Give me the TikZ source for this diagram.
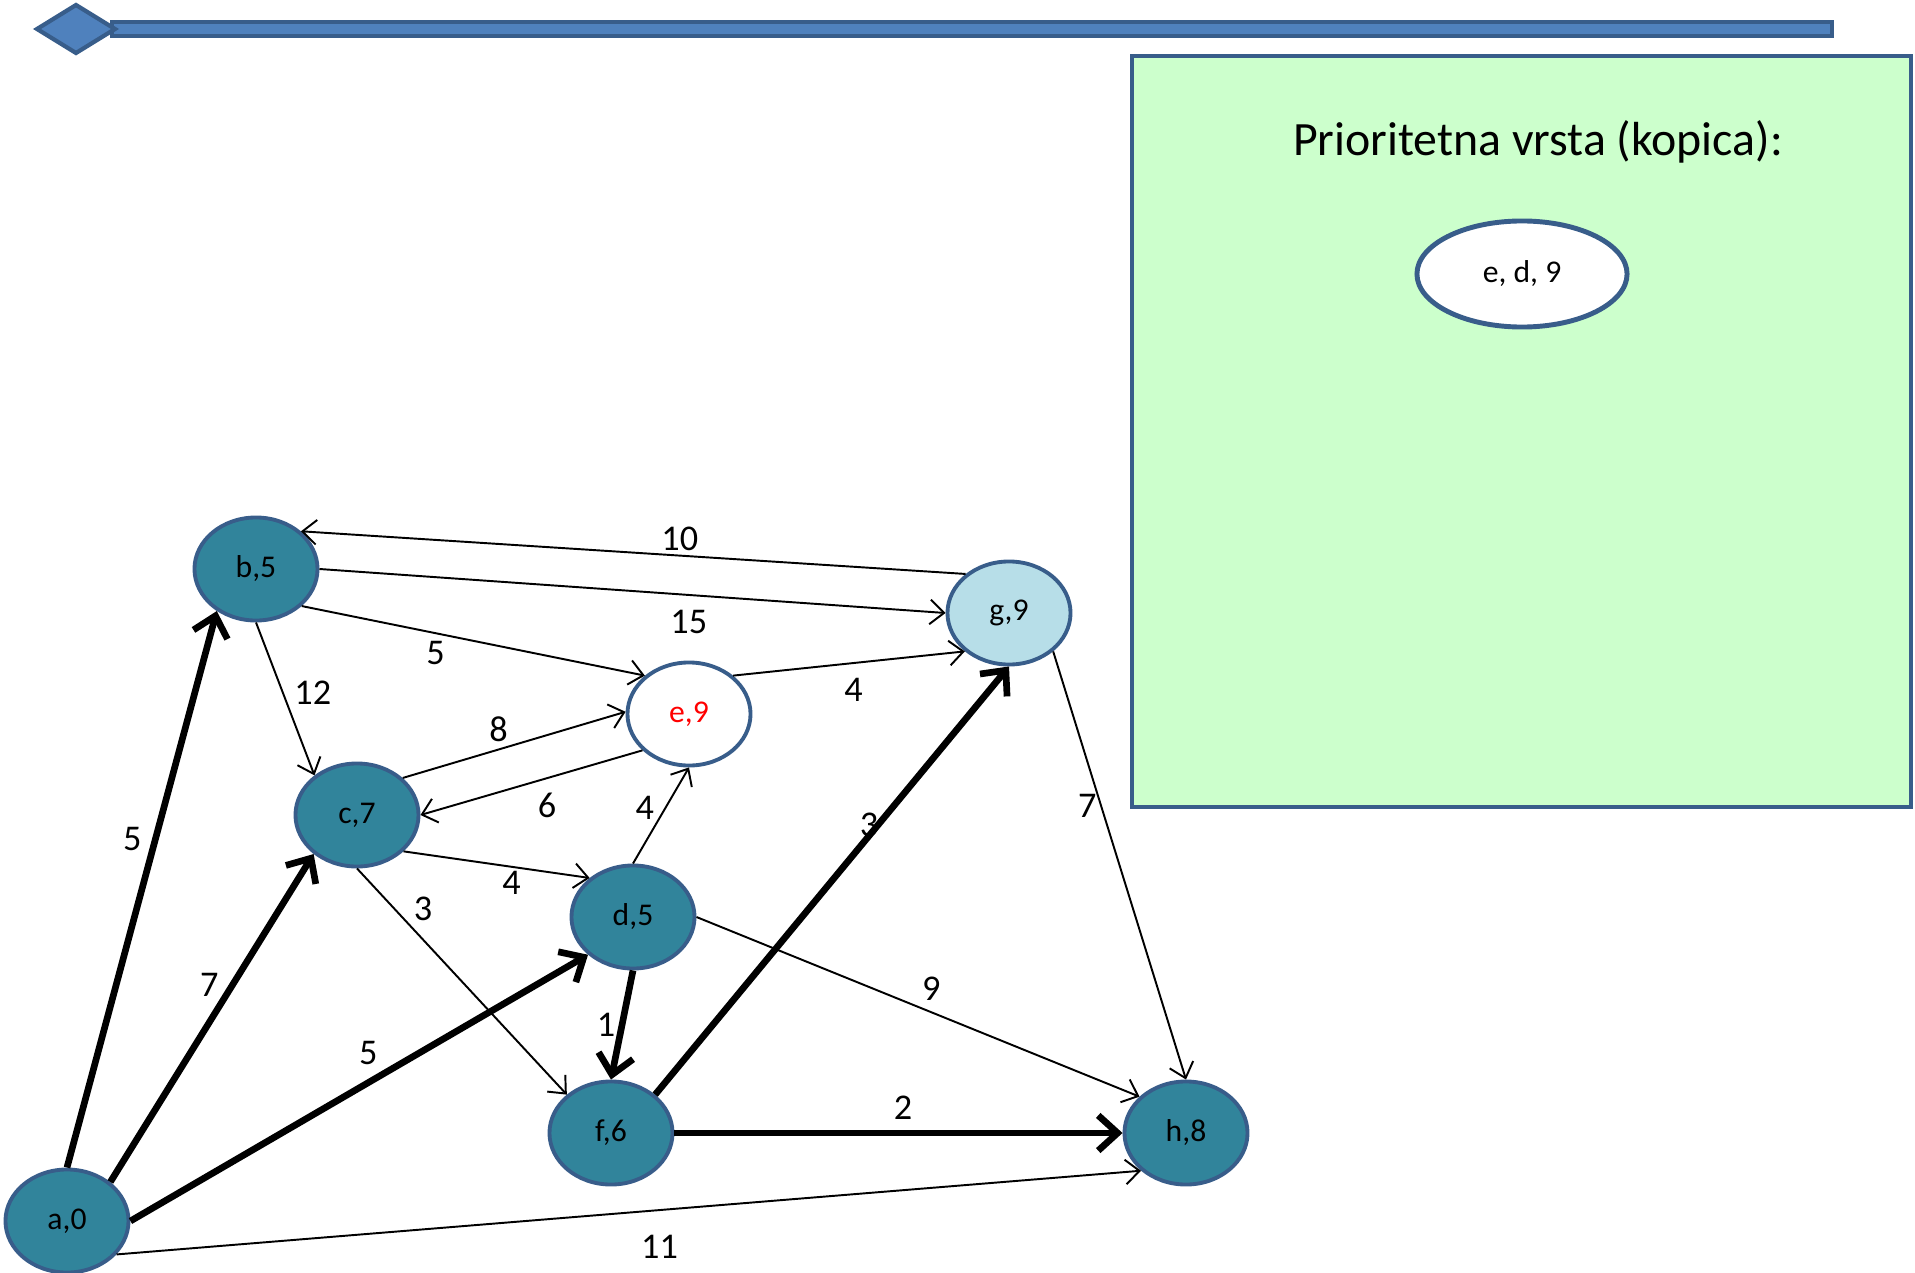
\documentclass[tikz,border=0pt]{standalone}
\usepackage{fontspec}
\setmainfont{Carlito}
\usetikzlibrary{arrows.meta,shapes.geometric}
\definecolor{nodeteal}{HTML}{31849B}
\definecolor{rim}{HTML}{385D8A}
\definecolor{barblue}{HTML}{4F81BD}
\definecolor{paleblue}{HTML}{B7DEE8}
\definecolor{mint}{HTML}{CCFFCC}

\begin{document}
\begin{tikzpicture}[x=0.01cm,y=-0.01cm,%
  vtx/.style={ellipse,draw=rim,line width=1.1pt,fill=nodeteal,minimum width=1.23cm,
    minimum height=1.03cm,inner sep=0pt,font=\fontsize{9}{10}\selectfont},
  lbl/.style={font=\fontsize{10.3}{12}\selectfont,inner sep=1pt},
  edg/.style={line width=0.55pt,-{Straight Barb[length=4pt,width=7pt]}},
  tree/.style={line width=1.9pt,-{Straight Barb[length=5.5pt,width=10pt]}}]
  \useasboundingbox (0,0) rectangle (1915,1273);
  % top bar
  \draw[rim,line width=1pt,fill=barblue] (112,22) rectangle (1832,36);
  \draw[rim,line width=1.2pt,fill=barblue] (37,29) -- (76,5) -- (115,29) -- (76,53) -- cycle;
  % heap box
  \draw[rim,line width=1.2pt,fill=mint] (1132,56) rectangle (1911,807);
  \node[font=\fontsize{13.6}{16}\selectfont] (title) at (1538,142) {Prioritetna vrsta (kopica):};
  \node[vtx,fill=white,minimum width=2.1cm,minimum height=1.06cm,line width=1.4pt] (q1) at (1522,274) {e, d, 9};
  % graph
  \node[vtx] (a) at (67,1221) {a,0};
  \node[vtx] (b) at (256,569) {b,5};
  \node[vtx] (c) at (357,815) {c,7};
  \node[vtx] (d) at (633,917) {d,5};
  \node[vtx,fill=white,text=red] (e) at (689,714) {e,9};
  \node[vtx] (f) at (611,1133) {f,6};
  \node[vtx,fill=paleblue] (g) at (1009,613) {g,9};
  \node[vtx] (h) at (1186,1133) {h,8};
  \draw[edg] (g.138) -- node[lbl,pos=.43,above] {10} (b.40);
  \draw[edg] (b.east) -- node[lbl,pos=.59,below=3pt] {15} (g.west);
  \draw[edg] (b.-39) -- node[lbl,pos=.39,below=1pt] {5} (e.139);
  \draw[edg] (b.south) -- node[lbl,pos=.46,right=2pt] {12} (c.137);
  \draw[edg] (e.41) -- node[lbl,pos=.52,below=3pt] {4} (g.221);
  \draw[edg] (c.39) -- node[lbl,pos=.43,above=1pt] {8} (e.178);
  \draw[edg] (e.218) -- node[lbl,pos=.43,below=3pt] {6} (c.east);
  \draw[edg] (d.north) -- node[lbl,pos=.58,left=2pt] {4} (e.south);
  \draw[edg] (c.-38) -- node[lbl,pos=.58,below] {4} (d.138);
  \draw[edg] (c.south) -- node[lbl,pos=.25,above right] {3} (f.139);
  \draw[edg] (d.east) -- node[lbl,pos=.53,above=2pt] {9} (h.142);
  \draw[edg] (g.-41) -- node[lbl,pos=.36,left=0pt] {7} (h.north);
  \draw[edg] (a.-34) -- node[lbl,pos=.53,below=6pt] {11} (h.220);
  \draw[tree] (a.north) -- node[lbl,pos=.59,left=2pt] {5} (b.227);
  \draw[tree] (a.42) -- node[lbl,pos=.6,left=2pt] {7} (c.222);
  \draw[tree] (a.east) -- node[lbl,pos=.52,above=3pt] {5} (d.220);
  \draw[tree] (d.south) -- node[lbl,pos=.5,left=0pt] {1} (f.north);
  \draw[tree] (f.41) -- node[lbl,pos=.63,left=-2pt] {3} (g.south);
  \draw[tree] (f.east) -- node[lbl,pos=.51,above=2pt] {2} (h.west);
\end{tikzpicture}
\end{document}
